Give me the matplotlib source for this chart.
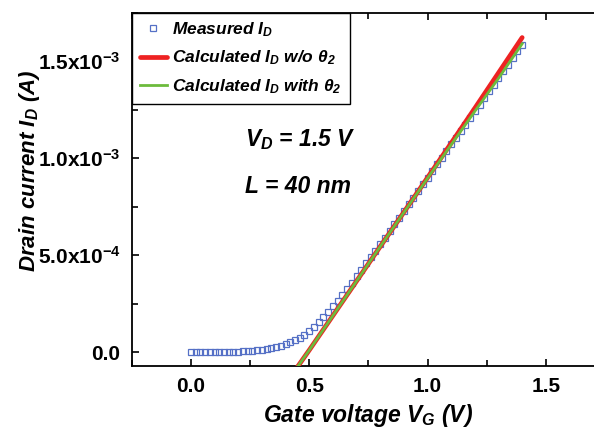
import numpy as np
import matplotlib
matplotlib.use("Agg")
import matplotlib.pyplot as plt
from matplotlib.ticker import MultipleLocator, FixedLocator, FixedFormatter

plt.rcParams['font.family'] = ['Liberation Sans', 'DejaVu Sans']
plt.rcParams['mathtext.fontset'] = 'custom'
plt.rcParams['mathtext.rm'] = 'Liberation Sans:bold:italic'
plt.rcParams['mathtext.it'] = 'Liberation Sans:bold:italic'
plt.rcParams['mathtext.bf'] = 'Liberation Sans:bold'

# gemessene Daten (I_D in 1e-4 A), VG in 0.02 V Schritten
vg_meas = np.arange(0, 71) * 0.02
id_meas = [0.00, 0.00, 0.00, 0.01, 0.01, 0.01, 0.02, 0.02, 0.03, 0.03,
           0.04, 0.05, 0.06, 0.08, 0.10, 0.13, 0.17, 0.22, 0.28, 0.35,
           0.43, 0.52, 0.63, 0.76, 0.91, 1.08, 1.30, 1.55, 1.82, 2.10,
           2.38, 2.67, 2.97, 3.28, 3.60, 3.92, 4.25, 4.58, 4.91, 5.24,
           5.57, 5.91, 6.26, 6.60, 6.94, 7.29, 7.63, 7.97, 8.31, 8.66,
           9.00, 9.34, 9.69, 10.03, 10.37, 10.72, 11.06, 11.40, 11.74, 12.09,
           12.43, 12.77, 13.12, 13.46, 13.80, 14.15, 14.49, 14.83, 15.17, 15.52,
           15.86]

# berechnete Kurven
vg_calc = [0.44, 0.50, 0.60, 0.70, 0.80, 0.90, 1.00, 1.10, 1.20, 1.30, 1.40]
id_wo_theta2 = [-0.93, 0.11, 1.89, 3.67, 5.45, 7.22, 9.00, 10.78, 12.58, 14.40, 16.22]
id_with_theta2 = [-0.93, 0.11, 1.89, 3.67, 5.45, 7.21, 8.97, 10.70, 12.42, 14.12, 15.90]

ytick_vals = [0, 5e-4, 1e-3, 1.5e-3]
ytick_labels = ['0.0', r'5.0x10$^{\mathbf{-4}}$', r'1.0x10$^{\mathbf{-3}}$', r'1.5x10$^{\mathbf{-3}}$']

fig = plt.figure(figsize=(5.94, 4.28), dpi=100)
ax = fig.add_axes([0.2217, 0.1449, 0.7968, 0.8254])

ax.plot(vg_meas, np.array(id_meas) * 1e-4, ls='none', marker='s', ms=5,
        mfc='none', mec='#5570c6', mew=0.9, label=r'Measured $I_D$', zorder=2)
ax.plot(vg_calc, np.array(id_wo_theta2) * 1e-4, color='#ee2222', lw=3.4,
        solid_capstyle='round', label=r'Calculated $I_D$ w/o $\theta_2$', zorder=3)
ax.plot(vg_calc, np.array(id_with_theta2) * 1e-4, color='#6cbb3c', lw=2.0,
        label=r'Calculated $I_D$ with $\theta_2$', zorder=4)

ax.set_xlim(-0.25, 1.75)
ax.set_ylim(-0.7e-4, 1.75e-3)

ax.xaxis.set_minor_locator(MultipleLocator(0.25))
ax.set_xticks([0, 0.5, 1.0, 1.5])
ax.set_xticklabels(['0.0', '0.5', '1.0', '1.5'])
ax.yaxis.set_major_locator(FixedLocator(ytick_vals))
ax.yaxis.set_major_formatter(FixedFormatter(ytick_labels))
ax.yaxis.set_minor_locator(MultipleLocator(2.5e-4))

ax.tick_params(which='both', direction='in', top=True, right=True, width=1.2)
ax.tick_params(which='major', length=5, labelsize=15, pad=8)
ax.tick_params(which='minor', length=4)
for lbl in ax.get_xticklabels() + ax.get_yticklabels():
    lbl.set_fontweight('bold')
for s in ax.spines.values():
    s.set_linewidth(1.3)

ax.set_xlabel(r'Gate voltage $V_G$ (V)', fontsize=16.5, fontweight='bold', style='italic', labelpad=4)
ax.set_ylabel(r'Drain current $I_D$ (A)', fontsize=16, fontweight='bold', style='italic')
ax.yaxis.set_label_coords(-0.19, 0.552)

ax.text(0.24, 0.641, r'$V_D$ = 1.5 V', transform=ax.transAxes, fontsize=16.5,
        fontweight='bold', style='italic', va='center')
ax.text(0.24, 0.508, 'L = 40 nm', transform=ax.transAxes, fontsize=16.5,
        fontweight='bold', style='italic', va='center')

leg = ax.legend(loc='upper left', bbox_to_anchor=(0, 1), borderaxespad=0,
                fancybox=False, framealpha=1, edgecolor='black',
                prop={'size': 12.5, 'weight': 'bold', 'style': 'italic'},
                handlelength=1.6, handletextpad=0.3, labelspacing=0.55,
                borderpad=0.45)
leg.get_frame().set_linewidth(1.0)

fig.savefig('out.png', dpi=100)
